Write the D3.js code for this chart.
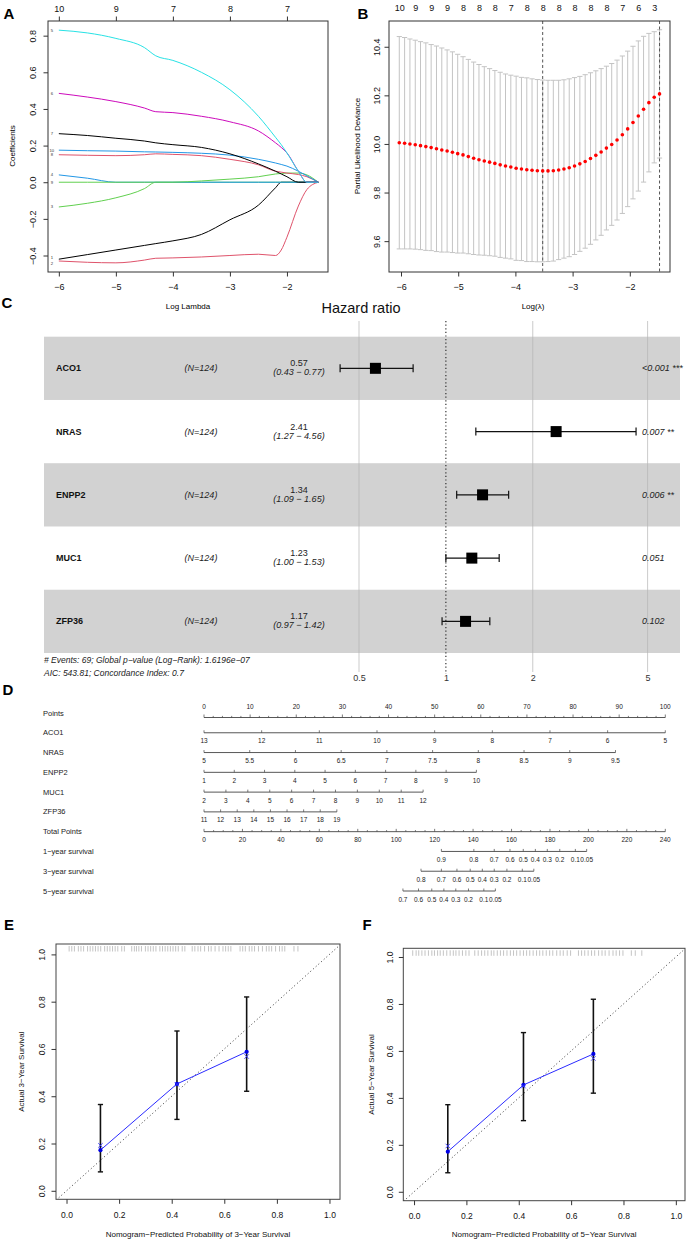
<!DOCTYPE html>
<html>
<head>
<meta charset="utf-8">
<script src="https://cdn.jsdelivr.net/npm/d3@7/dist/d3.min.js"></script>
<style>
html,body{margin:0;padding:0;background:#fff;}
svg{display:block;font-family:"Liberation Sans",Arial,Helvetica,sans-serif;}
</style>
</head>
<body>
<svg id="fig" width="687" height="1240"></svg>
<script>
// ================= DATA =================
// A: LASSO coefficient paths
const pathLogLambda = [-6,-5.5,-5,-4.5,-4.3,-4,-3.5,-3,-2.5,-2.2,-2.1,-2,-1.8,-1.65,-1.45];
const pathV5  = [0.830,0.815,0.785,0.735,0.690,0.665,0.600,0.505,0.360,0.245,0.205,0.160,0.060,0.000,0.000];
const pathV6  = [0.485,0.465,0.440,0.405,0.385,0.380,0.360,0.330,0.280,0.215,0.190,0.160,0.060,0.000,0.000];
const pathV7  = [0.265,0.255,0.240,0.225,0.215,0.205,0.190,0.155,0.100,0.060,0.045,0.030,0.000,0.000,0.000];
const pathV10 = [0.175,0.172,0.170,0.166,0.165,0.163,0.158,0.148,0.125,0.105,0.097,0.088,0.060,0.035,0.000];
const pathV8  = [0.150,0.147,0.145,0.150,0.155,0.152,0.145,0.125,0.095,0.060,0.055,0.050,0.042,0.030,0.000];
const pathV4  = [0.040,0.022,0.000,0.000,0.000,0.000,0.000,0.000,0.000,0.000,0.000,0.000,0.000,0.000,0.000];
const pathV9  = [0.000,0.000,0.000,0.000,0.000,0.000,0.007,0.017,0.030,0.045,0.048,0.050,0.050,0.040,0.000];
const pathV3  = [-0.135,-0.115,-0.085,-0.035,0.000,0.000,0.000,0.000,0.000,0.000,0.000,0.000,0.000,0.000,0.000];
const pathV1  = [-0.420,-0.395,-0.370,-0.345,-0.335,-0.320,-0.285,-0.205,-0.125,-0.030,0.000,0.000,0.000,0.000,0.000];
const pathV2  = [-0.430,-0.437,-0.440,-0.425,-0.415,-0.413,-0.408,-0.400,-0.393,-0.400,-0.370,-0.300,-0.130,-0.040,0.000];
const pathTopAt = [-6,-5,-4,-3,-2];
const pathTopLabels = ["10","9","7","8","7"];
const pathXTicks = [-6,-5,-4,-3,-2];
const pathYTicks = [-0.4,-0.2,0,0.2,0.4,0.6,0.8];

// B: cross-validation curve
const cvLogLambda = [-6.030,-5.937,-5.844,-5.751,-5.659,-5.566,-5.473,-5.380,-5.287,-5.194,
  -5.101,-5.009,-4.916,-4.823,-4.730,-4.637,-4.544,-4.451,-4.359,-4.266,
  -4.173,-4.080,-3.987,-3.894,-3.801,-3.709,-3.616,-3.523,-3.430,-3.337,
  -3.244,-3.151,-3.059,-2.966,-2.873,-2.780,-2.687,-2.594,-2.501,-2.409,
  -2.316,-2.223,-2.130,-2.037,-1.944,-1.851,-1.759,-1.666,-1.573,-1.480];
const cvMean = [10.005,10.003,10.000,9.997,9.993,9.989,9.985,9.980,9.975,9.971,
  9.966,9.960,9.955,9.948,9.941,9.935,9.930,9.925,9.920,9.914,
  9.909,9.905,9.900,9.897,9.894,9.892,9.890,9.889,9.889,9.890,
  9.893,9.897,9.902,9.909,9.918,9.928,9.940,9.953,9.967,9.983,
  9.998,10.016,10.038,10.062,10.088,10.115,10.143,10.170,10.192,10.206];
const cvSD = [0.437,0.435,0.432,0.430,0.428,0.427,0.424,0.423,0.420,0.416,
  0.413,0.409,0.404,0.400,0.396,0.392,0.388,0.385,0.382,0.381,
  0.379,0.378,0.379,0.377,0.378,0.376,0.375,0.374,0.373,0.372,
  0.369,0.367,0.366,0.364,0.360,0.357,0.353,0.348,0.343,0.337,
  0.333,0.329,0.324,0.320,0.314,0.309,0.300,0.285,0.270,0.264];
const cvTopLabels = ["10","9","9","9","8","8","8","7","8","8","8","8","8","8","7","6","3"];
const cvLambdaMin = -3.523, cvLambda1se = -1.480;
const cvXTicks = [-6,-5,-4,-3,-2];
const cvYTicks = [9.6,9.8,10.0,10.2,10.4];

// C: forest plot
const genes = ["ACO1","NRAS","ENPP2","MUC1","ZFP36"];
const nPatients = [124,124,124,124,124];
const hr = [0.57,2.41,1.34,1.23,1.17];
const hrLow = [0.43,1.27,1.09,1.00,0.97];
const hrHigh = [0.77,4.56,1.65,1.53,1.42];
const pText = ["<0.001 ***","0.007 **","0.006 **","0.051","0.102"];
const hrTicks = [0.5,1,2,5];
const forestFooter = ["# Events: 69; Global p\u2212value (Log\u2212Rank): 1.6196e\u221207",
                      "AIC: 543.81; Concordance Index: 0.7"];

// D: nomogram
const nomoRows = ["Points","ACO1","NRAS","ENPP2","MUC1","ZFP36","Total Points",
                  "1\u2212year survival","3\u2212year survival","5\u2212year survival"];
const nomoACO1  = [13,12,11,10,9,8,7,6,5];
const nomoNRAS  = [5,5.5,6,6.5,7,7.5,8,8.5,9,9.5];
const nomoENPP2 = [1,2,3,4,5,6,7,8,9,10];
const nomoMUC1  = [2,3,4,5,6,7,8,9,10,11,12];
const nomoZFP36 = [11,12,13,14,15,16,17,18,19];
const nomoMaxPts = [100,89.2,59.05,47.5,28.8];   // points at last tick of each variable
const surv1Labels = ["0.9","0.8","0.7","0.6","0.5","0.4","0.3","0.2","0.1","0.05"];
const surv1Points = [123.5,140.4,151.0,159.2,166.1,172.4,178.6,185.1,193.2,199.1];
const surv3Labels = ["0.8","0.7","0.6","0.5","0.4","0.3","0.2","0.1","0.05"];
const surv3Points = [112.9,123.5,131.6,138.5,144.8,151.0,157.6,165.6,171.6];
const surv5Labels = ["0.7","0.6","0.5","0.4","0.3","0.2","0.1","0.05"];
const surv5Points = [103.5,111.6,118.5,124.8,131.0,137.6,145.6,151.6];

// E / F: calibration
const calPred3 = [0.129,0.420,0.685];
const calObs3  = [0.172,0.452,0.588];
const calCorr3 = [0.192,0.450,0.568];
const calLo3   = [0.080,0.302,0.421];
const calHi3   = [0.365,0.676,0.820];
const calPred5 = [0.129,0.418,0.685];
const calObs5  = [0.171,0.455,0.587];
const calCorr5 = [0.195,0.450,0.568];
const calLo5   = [0.081,0.303,0.420];
const calHi5   = [0.371,0.678,0.820];
const rug3 = [0.010,0.020,0.030,0.045,0.055,0.065,0.080,0.090,0.100,0.110,0.120,0.130,0.145,0.155,0.165,0.175,0.185,0.195,0.210,0.220,
  0.248,0.258,0.266,0.275,0.285,0.300,0.310,0.320,0.330,0.340,0.355,0.365,0.375,0.385,0.395,0.405,0.415,0.425,0.440,0.450,
  0.478,0.488,0.500,0.510,0.525,0.540,0.550,0.565,0.580,0.595,0.605,0.615,0.625,
  0.660,0.670,0.680,0.695,0.705,0.715,0.730,0.745,0.760,0.770,0.780,0.795,0.810,0.820,0.830,0.865,0.880];
const rug5 = [-0.005,0.008,0.018,0.030,0.042,0.055,0.068,0.078,0.090,0.100,0.112,0.125,0.138,0.150,0.160,0.172,0.185,0.198,0.210,
  0.232,0.245,0.258,0.270,0.282,0.295,0.305,0.318,0.330,0.342,0.355,0.368,0.380,0.392,0.405,0.418,0.430,0.442,0.455,0.468,0.480,
  0.492,0.505,0.518,0.530,0.545,0.558,0.570,0.585,0.598,
  0.628,0.640,0.652,0.665,0.678,0.690,0.705,0.718,0.730,0.745,0.760,0.772,0.785,0.798,
  0.830,0.845,0.870];
const calTicks = [0,0.2,0.4,0.6,0.8,1.0];

// ================= DRAWING =================
const svg = d3.select("#fig");
svg.append("rect").attr("width",687).attr("height",1240).attr("fill","#fff");
const fmt1 = d3.format(".1f"), fmt2 = d3.format(".2f");

function label(g, x, y, s, o = {}) {
  const t = g.append("text").attr("x", x).attr("y", y).text(s)
    .attr("font-size", o.size || 9).attr("fill", o.fill || "#000")
    .attr("text-anchor", o.anchor || "middle")
    .attr("dominant-baseline", o.baseline || "central");
  if (o.weight) t.attr("font-weight", o.weight);
  if (o.style) t.attr("font-style", o.style);
  if (o.rotate) t.attr("transform", `rotate(${o.rotate},${x},${y})`);
  return t;
}
function styleAxis(g, size) {
  g.select(".domain").remove();
  g.selectAll(".tick line").attr("stroke", "#333");
  g.selectAll(".tick text").attr("font-size", size).attr("fill", "#111")
    .attr("font-family", '"Liberation Sans",Arial,sans-serif');
}
function leftAxisRot(g, scale, ticks, x, offset, fmt, size) {
  const a = g.append("g").attr("transform", `translate(${x},0)`)
    .call(d3.axisLeft(scale).tickValues(ticks).tickSize(4.5).tickFormat(fmt));
  styleAxis(a, size);
  a.selectAll(".tick text").attr("x", 0).attr("y", -offset).attr("dy", 0)
    .attr("dominant-baseline", "central").attr("text-anchor", "middle")
    .attr("transform", "rotate(-90)");
  return a;
}
function bottomAxis(g, scale, ticks, y, pad, fmt, size) {
  const a = g.append("g").attr("transform", `translate(0,${y})`)
    .call(d3.axisBottom(scale).tickValues(ticks).tickSize(4.5).tickPadding(pad).tickFormat(fmt));
  styleAxis(a, size);
  return a;
}

// ---------- Panel A ----------
{
  const g = svg.append("g");
  const x = d3.scaleLinear().domain([-6.19, -1.28]).range([48, 328]);
  const y = d3.scaleLinear().domain([-0.49, 0.88]).range([272, 21]);
  const series = [
    {lab:"1", v:pathV1, c:"#000000"}, {lab:"2", v:pathV2, c:"#DF536B"},
    {lab:"3", v:pathV3, c:"#61D04F"}, {lab:"4", v:pathV4, c:"#2297E6"},
    {lab:"9", v:pathV9, c:"#61D04F"}, {lab:"8", v:pathV8, c:"#DF536B"},
    {lab:"10", v:pathV10, c:"#2297E6"}, {lab:"7", v:pathV7, c:"#000000"},
    {lab:"6", v:pathV6, c:"#CD0BBC"}, {lab:"5", v:pathV5, c:"#28E2E5"}
  ];
  const line = d3.line().x((d,i) => x(pathLogLambda[i])).y(d => y(d)).curve(d3.curveMonotoneX);
  series.forEach(s => {
    g.append("path").attr("d", line(s.v)).attr("fill","none").attr("stroke", s.c).attr("stroke-width", 1);
  });
  series.forEach(s => {
    label(g, x(-6) - 7, y(s.v[0]) + (s.lab==="2"?2:(s.lab==="1"?-1.5:0)), s.lab, {size:4.2, fill:"#333"});
  });
  g.append("rect").attr("x",48).attr("y",21).attr("width",280).attr("height",251)
    .attr("fill","none").attr("stroke","#333").attr("stroke-width",1);
  bottomAxis(g, x, pathXTicks, 272, 7, d3.format("d"), 9);
  leftAxisRot(g, y, pathYTicks, 48, 15.5, fmt1, 9);
  const top = g.append("g").attr("transform","translate(0,21)")
    .call(d3.axisTop(x).tickValues(pathTopAt).tickSize(4.5).tickPadding(5).tickFormat((d,i)=>pathTopLabels[i]));
  styleAxis(top, 9);
  label(g, 188, 306, "Log Lambda", {size:8});
  label(g, 12, 146, "Coefficients", {size:8, rotate:-90});
  label(g, 9, 13, "A", {size:15, weight:"bold"});
}

// ---------- Panel B ----------
{
  const g = svg.append("g");
  const x = d3.scaleLinear().domain([-6.21, -1.297]).range([389, 670]);
  const y = d3.scaleLinear().domain([9.473, 10.506]).range([272, 21]);
  const idx = d3.range(cvLogLambda.length);
  const bars = g.append("g").attr("stroke","#c4c4c4").attr("stroke-width",1);
  idx.forEach(i => {
    const xi = x(cvLogLambda[i]), hi = y(cvMean[i] + cvSD[i]), lo = y(cvMean[i] - cvSD[i]);
    bars.append("line").attr("x1",xi).attr("x2",xi).attr("y1",hi).attr("y2",lo);
    bars.append("line").attr("x1",xi-2.6).attr("x2",xi+2.6).attr("y1",hi).attr("y2",hi);
    bars.append("line").attr("x1",xi-2.6).attr("x2",xi+2.6).attr("y1",lo).attr("y2",lo);
  });
  [cvLambdaMin, cvLambda1se].forEach(v => {
    g.append("line").attr("x1",x(v)).attr("x2",x(v)).attr("y1",21).attr("y2",272)
      .attr("stroke","#555").attr("stroke-width",1).attr("stroke-dasharray","3,2.5");
  });
  g.selectAll("circle.cv").data(idx).enter().append("circle")
    .attr("cx", i => x(cvLogLambda[i])).attr("cy", i => y(cvMean[i])).attr("r", 1.8).attr("fill","#ff0000");
  g.append("rect").attr("x",389).attr("y",21).attr("width",281).attr("height",251)
    .attr("fill","none").attr("stroke","#333").attr("stroke-width",1);
  bottomAxis(g, x, cvXTicks, 272, 7, d3.format("d"), 9);
  leftAxisRot(g, y, cvYTicks, 389, 12, fmt1, 9);
  const topIdx = cvTopLabels.map((d,k) => k*3);
  const top = g.append("g").attr("transform","translate(0,21)")
    .call(d3.axisTop(x).tickValues(topIdx.map(i => cvLogLambda[i])).tickSize(0).tickPadding(10)
      .tickFormat((d,k)=>cvTopLabels[k]));
  styleAxis(top, 9);
  label(g, 533, 306, "Log(\u03bb)", {size:8});
  label(g, 357, 146, "Partial Likelihood Deviance", {size:8, rotate:-90});
  label(g, 363, 13, "B", {size:15, weight:"bold"});
}

// ---------- Panel C ----------
{
  const g = svg.append("g");
  const x = d3.scaleLog().domain([0.5, 5]).range([359, 647.6]);
  const rows = d3.scaleBand().domain(genes).range([336.7, 653]);
  genes.forEach((gname, i) => {
    if (i % 2 === 0) g.append("rect").attr("x",44).attr("y",rows(gname)).attr("width",636)
      .attr("height",rows.bandwidth()).attr("fill","#d2d2d2");
  });
  [0.5,2,5].forEach(v => g.append("line").attr("x1",x(v)).attr("x2",x(v)).attr("y1",321).attr("y2",672)
    .attr("stroke","#b4b4b4").attr("stroke-width",0.7));
  g.append("line").attr("x1",x(1)).attr("x2",x(1)).attr("y1",321).attr("y2",674)
    .attr("stroke","#222").attr("stroke-width",1.1).attr("stroke-dasharray","1.2,2.4");
  genes.forEach((gname, i) => {
    const cy = rows(gname) + rows.bandwidth()/2;
    label(g, 56, cy, gname, {size:9, weight:"bold", anchor:"start", fill:"#111"});
    label(g, 201, cy, `(N=${nPatients[i]})`, {size:9, style:"italic", fill:"#222"});
    label(g, 299, cy - 5, fmt2(hr[i]), {size:9, fill:"#222"});
    label(g, 299, cy + 4, `(${fmt2(hrLow[i])} \u2212 ${fmt2(hrHigh[i])})`, {size:9, style:"italic", fill:"#222"});
    label(g, 642, cy, pText[i], {size:9, style:"italic", anchor:"start", fill:"#222"});
    g.append("line").attr("x1",x(hrLow[i])).attr("x2",x(hrHigh[i])).attr("y1",cy).attr("y2",cy)
      .attr("stroke","#111").attr("stroke-width",1.2);
    [hrLow[i], hrHigh[i]].forEach(v => g.append("line").attr("x1",x(v)).attr("x2",x(v))
      .attr("y1",cy-4).attr("y2",cy+4).attr("stroke","#111").attr("stroke-width",1.2));
    g.append("rect").attr("x",x(hr[i])-5.5).attr("y",cy-5.5).attr("width",11).attr("height",11).attr("fill","#000");
  });
  label(g, 44, 660, forestFooter[0], {size:8.5, style:"italic", anchor:"start", fill:"#222"});
  label(g, 44, 673, forestFooter[1], {size:8.5, style:"italic", anchor:"start", fill:"#222"});
  const ax = g.append("g").attr("transform","translate(0,671)")
    .call(d3.axisBottom(x).tickValues(hrTicks).tickSize(0).tickPadding(3.5).tickFormat(d3.format("")));
  styleAxis(ax, 9);
  ax.selectAll(".tick text").attr("fill","#333");
  label(g, 361, 308, "Hazard ratio", {size:14.5, fill:"#111"});
  label(g, 7, 302, "C", {size:15, weight:"bold"});
}

// ---------- Panel D ----------
{
  const g = svg.append("g");
  const rowY = d3.scalePoint().domain(nomoRows).range([713, 891]);
  const ptsX = d3.scaleLinear().domain([0,100]).range([204, 665.3]);
  const totX = d3.scaleLinear().domain([0,240]).range([204, 665.3]);
  const LC = "#444", TC = "#222";
  nomoRows.forEach(r => label(g, 43, rowY(r), r, {size:7.5, anchor:"start", fill:TC}));
  // Points axis
  {
    const yl = rowY("Points") + 4.5;
    g.append("line").attr("x1",ptsX(0)).attr("x2",ptsX(100)).attr("y1",yl).attr("y2",yl).attr("stroke",LC).attr("stroke-width",0.9);
    d3.range(0,101,2).forEach(v => {
      const major = v % 10 === 0;
      g.append("line").attr("x1",ptsX(v)).attr("x2",ptsX(v)).attr("y1",yl).attr("y2",yl-(major?3:1.6))
        .attr("stroke",LC).attr("stroke-width",0.7);
      if (major) label(g, ptsX(v), rowY("Points") - 6.5, String(v), {size:6.5, fill:TC});
    });
  }
  // Variable axes
  const vars = [nomoACO1, nomoNRAS, nomoENPP2, nomoMUC1, nomoZFP36];
  vars.forEach((vals, k) => {
    const r = nomoRows[k+1], yl = rowY(r);
    const p = d3.scaleLinear().domain([vals[0], vals[vals.length-1]]).range([0, nomoMaxPts[k]]);
    g.append("line").attr("x1",ptsX(p(vals[0]))).attr("x2",ptsX(p(vals[vals.length-1])))
      .attr("y1",yl).attr("y2",yl).attr("stroke",LC).attr("stroke-width",0.9);
    vals.forEach(v => {
      g.append("line").attr("x1",ptsX(p(v))).attr("x2",ptsX(p(v))).attr("y1",yl).attr("y2",yl-2.5)
        .attr("stroke",LC).attr("stroke-width",0.7);
      label(g, ptsX(p(v)), yl + 8, String(v), {size:6.5, fill:TC});
    });
  });
  // Total points
  {
    const yl = rowY("Total Points");
    g.append("line").attr("x1",totX(0)).attr("x2",totX(240)).attr("y1",yl).attr("y2",yl).attr("stroke",LC).attr("stroke-width",0.9);
    d3.range(0,241,5).forEach(v => {
      const major = v % 20 === 0;
      g.append("line").attr("x1",totX(v)).attr("x2",totX(v)).attr("y1",yl).attr("y2",yl-(major?2.8:1.6))
        .attr("stroke",LC).attr("stroke-width",0.7);
      if (major) label(g, totX(v), yl + 8, String(v), {size:6.5, fill:TC});
    });
  }
  // Survival axes
  [[surv1Labels, surv1Points], [surv3Labels, surv3Points], [surv5Labels, surv5Points]].forEach((s, k) => {
    const yl = rowY(nomoRows[7+k]);
    const [labs, pts] = s;
    g.append("line").attr("x1",totX(pts[0])).attr("x2",totX(pts[pts.length-1])).attr("y1",yl).attr("y2",yl)
      .attr("stroke",LC).attr("stroke-width",0.9);
    pts.forEach((p, i) => {
      g.append("line").attr("x1",totX(p)).attr("x2",totX(p)).attr("y1",yl).attr("y2",yl-2.5)
        .attr("stroke",LC).attr("stroke-width",0.7);
      label(g, totX(p), yl + 8, labs[i], {size:6.5, fill:TC});
    });
  });
  label(g, 8, 689, "D", {size:15, weight:"bold"});
}

// ---------- Panels E / F ----------
function calPanel(o) {
  const g = svg.append("g");
  const x = d3.scaleLinear().domain(o.xd).range(o.xr);
  const y = d3.scaleLinear().domain(o.yd).range(o.yr);
  const clipId = "clip" + o.letter;
  g.append("clipPath").attr("id", clipId).append("rect")
    .attr("x",o.xr[0]).attr("y",o.yr[1]).attr("width",o.xr[1]-o.xr[0]).attr("height",o.yr[0]-o.yr[1]);
  // rug
  g.selectAll("line.rug").data(o.rug).enter().append("line")
    .attr("x1", d => x(d)).attr("x2", d => x(d)).attr("y1", o.yr[1] + 2).attr("y2", o.yr[1] + 7.5)
    .attr("stroke","#b5b5b5").attr("stroke-width",0.8);
  // diagonal
  g.append("line").attr("clip-path",`url(#${clipId})`)
    .attr("x1",x(-0.05)).attr("y1",y(-0.05)).attr("x2",x(1.05)).attr("y2",y(1.05))
    .attr("stroke","#333").attr("stroke-width",1).attr("stroke-dasharray","1,2.6");
  // error bars
  o.pred.forEach((p, i) => {
    const xi = x(p);
    g.append("line").attr("x1",xi).attr("x2",xi).attr("y1",y(o.lo[i])).attr("y2",y(o.hi[i]))
      .attr("stroke","#111").attr("stroke-width",1.6);
    [o.lo[i], o.hi[i]].forEach(v => g.append("line").attr("x1",xi-2.6).attr("x2",xi+2.6)
      .attr("y1",y(v)).attr("y2",y(v)).attr("stroke","#111").attr("stroke-width",1.4));
  });
  // calibration line
  const ln = d3.line().x((d,i) => x(o.pred[i])).y(d => y(d));
  g.append("path").attr("d", ln(o.obs)).attr("fill","none").attr("stroke","#2b2bff").attr("stroke-width",1);
  o.pred.forEach((p, i) => {
    g.append("circle").attr("cx",x(p)).attr("cy",y(o.obs[i])).attr("r",2.1).attr("fill","#0000e6");
    const cx = x(p), cy = y(o.corr[i]), s = 2.2;
    g.append("path").attr("d",`M${cx-s},${cy-s}L${cx+s},${cy+s}M${cx-s},${cy+s}L${cx+s},${cy-s}`)
      .attr("stroke","#3333ff").attr("stroke-width",0.9);
  });
  g.append("rect").attr("x",o.xr[0]).attr("y",o.yr[1]).attr("width",o.xr[1]-o.xr[0]).attr("height",o.yr[0]-o.yr[1])
    .attr("fill","none").attr("stroke","#444").attr("stroke-width",1);
  bottomAxis(g, x, calTicks, o.yr[0], 8, fmt1, 8.5);
  leftAxisRot(g, y, calTicks, o.xr[0], o.yOff, fmt1, 8.5);
  label(g, (o.xr[0]+o.xr[1])/2, 1234, o.xTitle, {size:8, fill:"#111"});
  label(g, o.yTitleX, (o.yr[0]+o.yr[1])/2, o.yTitle, {size:8, rotate:-90, fill:"#111"});
  label(g, o.lx, 924, o.letter, {size:15, weight:"bold"});
}
calPanel({letter:"E", lx:9, xd:[-0.04,1.04], xr:[56,340], yd:[-0.036,1.044], yr:[1199.3,944],
  pred:calPred3, obs:calObs3, corr:calCorr3, lo:calLo3, hi:calHi3, rug:rug3, yOff:14.3, yTitleX:22,
  xTitle:"Nomogram\u2212Predicted Probability of 3\u2212Year Survival", yTitle:"Actual 3\u2212Year Survival"});
calPanel({letter:"F", lx:367, xd:[-0.041,1.035], xr:[403.3,685], yd:[-0.038,1.037], yr:[1200.7,948.3],
  pred:calPred5, obs:calObs5, corr:calCorr5, lo:calLo5, hi:calHi5, rug:rug5, yOff:13.5, yTitleX:371.5,
  xTitle:"Nomogram\u2212Predicted Probability of 5\u2212Year Survival", yTitle:"Actual 5\u2212Year Survival"});
</script>
</body>
</html>
